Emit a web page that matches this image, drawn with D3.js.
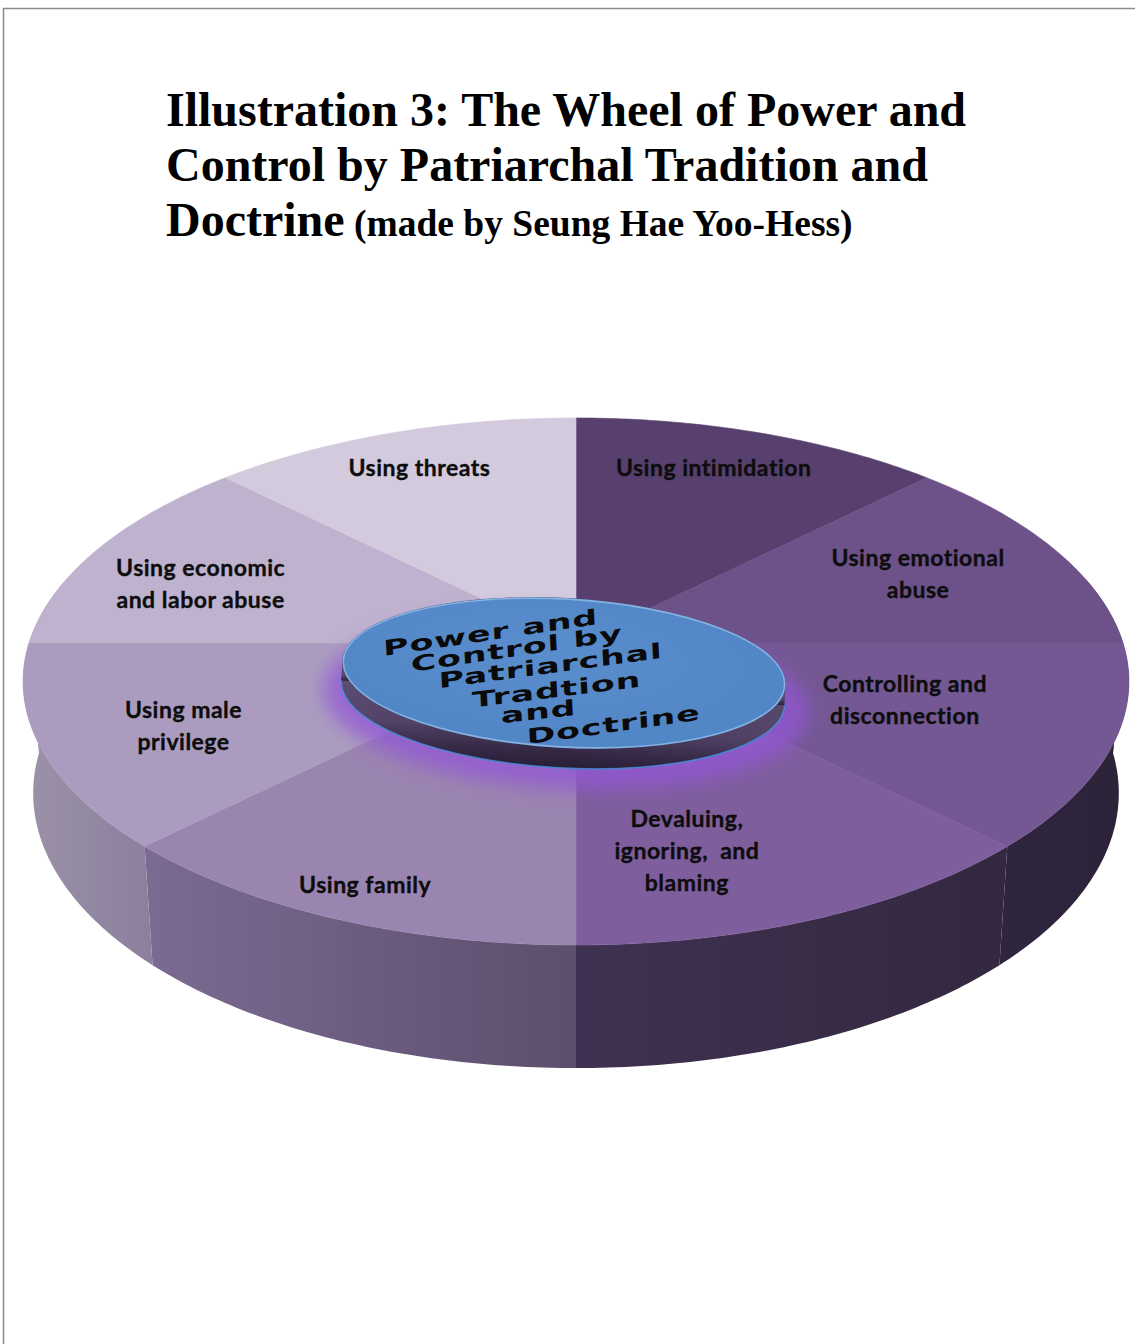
<!DOCTYPE html>
<html>
<head>
<meta charset="utf-8">
<script src="https://cdn.jsdelivr.net/npm/d3@7"></script>
<style>
  html, body { margin: 0; padding: 0; background: #ffffff; }
  svg { display: block; }
</style>
</head>
<body>
<script>
// ---------- DATA ----------
const titleLines = ["Illustration 3: The Wheel of Power and", "Control by Patriarchal Tradition and", "Doctrine"];
const subtitle = "(made by Seung Hae Yoo-Hess)";
const categories = [
  "Using intimidation", "Using emotional abuse", "Controlling and disconnection",
  "Devaluing, ignoring, and blaming", "Using family", "Using male privilege",
  "Using economic and labor abuse", "Using threats"
];
const values = [1, 1, 1, 1, 1, 1, 1, 1];
const labelLines = [
  ["Using intimidation"],
  ["Using emotional", "abuse"],
  ["Controlling and", "disconnection"],
  ["Devaluing,", "ignoring,\u00a0 and", "blaming"],
  ["Using family"],
  ["Using male", "privilege"],
  ["Using economic", "and labor abuse"],
  ["Using threats"]
];
const centerLines = ["Power and", "Control by", "Patriarchal", "Tradtion", "and", "Doctrine"];

// ---------- STYLE ----------
const topColors  = ["#57406e", "#6c5289", "#735893", "#7e5e9c", "#9a84b0", "#ab9cbf", "#beb2cf", "#d3cadd"];
const wallColors = [
  ["#2c2238", "#2b2136"], ["#2e2440", "#2c2239"], ["#2f2540", "#2c2238"], ["#3f3151", "#33283f"],
  ["#7b6b93", "#5c4e6c"], ["#9c92a8", "#8b7f9d"], ["#a79cb4", "#a094ad"], ["#b5abc0", "#b5abc0"]
];
const labelRadius = [0.81, 0.71, 0.62, 0.74, 0.89, 0.75, 0.75, 0.82];
const labelShift  = [-2.3, -1, -2.5, 8.3, -0.1, -1.4, -3.8, -0.3]; // degrees
// centre-text layout: [x centre, baseline y at centre, baseline slope in degrees]
const centerLayout = [[491, 640, -8.5], [517, 656, -8.6], [551, 673, -7.7], [557, 697, -7], [539, 719, -6.5], [614, 732, -8.2]];

const W = 1135, H = 1344;
const svg = d3.select("body").append("svg").attr("width", W).attr("height", H);
const defs = svg.append("defs");

// page frame
svg.append("line").attr("x1", 3).attr("x2", W).attr("y1", 8.5).attr("y2", 8.5)
  .attr("stroke", "#8a8a8a").attr("stroke-width", 1.5);
svg.append("line").attr("x1", 3.5).attr("x2", 3.5).attr("y1", 8).attr("y2", H)
  .attr("stroke", "#8a8a8a").attr("stroke-width", 1.5);

// title
const title = svg.append("text").attr("x", 166)
  .attr("font-family", "'Liberation Serif','Times New Roman',serif")
  .attr("font-weight", "bold").attr("fill", "#000");
titleLines.forEach((t, i) => {
  title.append("tspan").attr("x", 166).attr("y", 126 + i * 55).attr("font-size", 48).text(t);
  if (i === titleLines.length - 1) {
    title.append("tspan").attr("font-size", 37.5).text(" " + subtitle);
  }
});

// ---------- PERSPECTIVE WHEEL ----------
const topP = {cx: 576, cy: 643, s: 547, t: 257.9, k: 0.146};
const botP = {cx: 576, cy: 753, s: 537, t: 269.1, k: 0.146};
function proj(a, r, P) {
  const u = r * Math.sin(a), v = -r * Math.cos(a);
  const d = 1 - P.k * v;
  return [P.cx + P.s * u / d, P.cy + P.t * v / d];
}
function arcPts(a0, a1, P, n) {
  const pts = [];
  for (let i = 0; i <= n; i++) pts.push(proj(a0 + (a1 - a0) * i / n, 1, P));
  return pts;
}

const pie = d3.pie().sort(null).startAngle(0).endAngle(2 * Math.PI).value(d => d);
const arcs = pie(values);
const line = d3.line();
const rad = d => d * Math.PI / 180;

// walls (front, visible part)
const wallMin = rad(75), wallMax = rad(285);
arcs.forEach((s, i) => {
  const a0 = Math.max(s.startAngle, wallMin), a1 = Math.min(s.endAngle, wallMax);
  if (a1 <= a0) return;
  const g = defs.append("linearGradient").attr("id", "wall" + i)
    .attr("x1", 0).attr("x2", 1).attr("y1", 0).attr("y2", 0);
  g.append("stop").attr("offset", 0).attr("stop-color", wallColors[i][0]);
  g.append("stop").attr("offset", 1).attr("stop-color", wallColors[i][1]);
  const pts = arcPts(a0, a1, topP, 60).concat(arcPts(a1, a0, botP, 60));
  svg.append("path").attr("d", line(pts) + "Z").attr("fill", `url(#wall${i})`);
});

// top slices
arcs.forEach((s, i) => {
  const pts = [proj(0, 0, topP)].concat(arcPts(s.startAngle, s.endAngle, topP, 80));
  svg.append("path").attr("d", line(pts) + "Z").attr("fill", topColors[i])
    .attr("stroke", topColors[i]).attr("stroke-width", 0.6);
});

// slice labels
const lblG = svg.append("g").attr("font-family", "Lato, 'Open Sans', sans-serif")
  .attr("font-weight", "bold").attr("font-size", 23).attr("letter-spacing", 0.5)
  .attr("fill", "#0d0d0d").attr("stroke", "#0d0d0d").attr("stroke-width", 0.35)
  .attr("text-anchor", "middle");
arcs.forEach((s, i) => {
  const mid = (s.startAngle + s.endAngle) / 2 + rad(labelShift[i]);
  const [x, y] = proj(mid, labelRadius[i], topP);
  const lines = labelLines[i];
  const lh = 32;
  const t = lblG.append("text").attr("x", x).attr("y", y - (lines.length - 1) * lh / 2)
    .attr("dominant-baseline", "central");
  lines.forEach((l, j) => t.append("tspan").attr("x", x).attr("dy", j === 0 ? 0 : lh).text(l));
});

// ---------- CENTRE DISC ----------
const dc = {x: 564, y: 673, rx: 221, ry: 74, rot: 3.2, rim: 20};
const blur = defs.append("filter").attr("id", "glow").attr("x", "-20%").attr("y", "-40%")
  .attr("width", "140%").attr("height", "180%");
blur.append("feGaussianBlur").attr("stdDeviation", 9);
const rimG = defs.append("linearGradient").attr("id", "rimGrad").attr("x1", 0).attr("x2", 0).attr("y1", 0).attr("y2", 1);
rimG.append("stop").attr("offset", 0).attr("stop-color", "#6b5a82");
rimG.append("stop").attr("offset", 0.75).attr("stop-color", "#55456b");
rimG.append("stop").attr("offset", 0.9).attr("stop-color", "#3b2d4d");
rimG.append("stop").attr("offset", 1).attr("stop-color", "#2f2340");
const rimH = defs.append("linearGradient").attr("id", "rimH").attr("x1", 0).attr("x2", 1).attr("y1", 0).attr("y2", 0);
rimH.append("stop").attr("offset", 0).attr("stop-color", "#000").attr("stop-opacity", 0.0);
rimH.append("stop").attr("offset", 0.5).attr("stop-color", "#000").attr("stop-opacity", 0.15);
rimH.append("stop").attr("offset", 1).attr("stop-color", "#000").attr("stop-opacity", 0.05);
const topG = defs.append("radialGradient").attr("id", "discTop").attr("cx", "45%").attr("cy", "40%").attr("r", "65%");
topG.append("stop").attr("offset", 0).attr("stop-color", "#5a8dcc");
topG.append("stop").attr("offset", 1).attr("stop-color", "#5085c6");

const disc = svg.append("g").attr("transform", `translate(${dc.x},${dc.y}) rotate(${dc.rot})`);
disc.append("ellipse").attr("cx", 4).attr("cy", dc.rim + 8).attr("rx", dc.rx + 22).attr("ry", dc.ry + 14)
  .attr("fill", "#9356d6").attr("opacity", 0.75).attr("filter", "url(#glow)");
disc.append("ellipse").attr("cx", 0).attr("cy", dc.rim).attr("rx", dc.rx + 1).attr("ry", dc.ry + 1)
  .attr("fill", "url(#rimGrad)").attr("stroke", "#4a8ad4").attr("stroke-width", 1.5);
disc.append("rect").attr("x", -dc.rx - 1).attr("y", 0).attr("width", 2 * dc.rx + 2).attr("height", dc.rim)
  .attr("fill", "url(#rimGrad)");
disc.append("ellipse").attr("cx", 0).attr("cy", dc.rim).attr("rx", dc.rx + 1).attr("ry", dc.ry + 1)
  .attr("fill", "url(#rimH)");
disc.append("ellipse").attr("rx", dc.rx + 1).attr("ry", dc.ry + 1).attr("fill", "#3c4f78");
disc.append("ellipse").attr("rx", dc.rx).attr("ry", dc.ry).attr("fill", "url(#discTop)")
  .attr("stroke", "#86b2e2").attr("stroke-width", 1.6);
defs.append("clipPath").attr("id", "discClip").append("ellipse")
  .attr("cx", dc.x).attr("cy", dc.y).attr("rx", dc.rx - 2).attr("ry", dc.ry - 2)
  .attr("transform", `rotate(${dc.rot},${dc.x},${dc.y})`);

// centre text (perspective-like: sloped baseline, squashed height)
const ctG = svg.append("g").attr("clip-path", "url(#discClip)")
  .attr("font-family", "'DejaVu Sans', Verdana, sans-serif").attr("font-weight", "bold")
  .attr("font-size", 34.5).attr("fill", "#0a0a0a").attr("text-anchor", "middle");
centerLines.forEach((t, i) => {
  const [x, y, sl] = centerLayout[i];
  ctG.append("text")
    .attr("transform", `translate(${x},${y}) skewY(${sl}) skewX(3) scale(1,0.62)`)
    .attr("letter-spacing", 1).text(t);
});
</script>
</body>
</html>
